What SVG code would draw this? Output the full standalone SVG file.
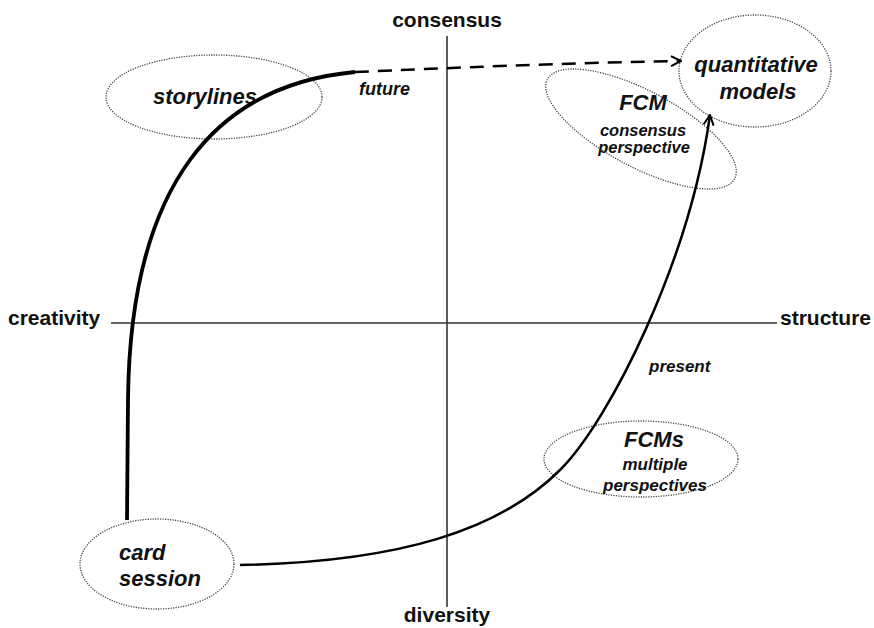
<svg xmlns="http://www.w3.org/2000/svg" width="874" height="628" viewBox="0 0 874 628">
  <style>
    .axis { stroke: #333; stroke-width: 1.6; fill: none; }
    .axlbl { font-family: "Liberation Sans", Arial, sans-serif; font-weight: bold; font-size: 21px; fill: #111; }
    .node { fill: none; stroke: #444; stroke-width: 1.3; stroke-dasharray: 1.2 1.3; }
    .big { font-family: "Liberation Sans", Arial, sans-serif; font-weight: bold; font-style: italic; font-size: 22px; fill: #111; }
    .small { font-family: "Liberation Sans", Arial, sans-serif; font-weight: bold; font-style: italic; font-size: 17px; fill: #111; }
    .tight { font-size: 16.5px; }
    .path { fill: none; stroke: #000; stroke-width: 3.8; stroke-linecap: butt; }
    .thin { fill: none; stroke: #000; stroke-width: 2.5; }
  </style>
  <defs>
    <marker id="arrow" viewBox="0 0 12 12" refX="11" refY="6" markerWidth="12" markerHeight="12" markerUnits="userSpaceOnUse" orient="auto">
      <path d="M1,1 L11,6 L1,11" fill="none" stroke="#000" stroke-width="2"/>
    </marker>
  </defs>
  <rect width="874" height="628" fill="#fff"/>

  <!-- axes -->
  <g id="axes">
    <line class="axis" x1="111" y1="323" x2="777" y2="323"/>
    <line class="axis" x1="447" y1="36" x2="447" y2="607"/>
    <text class="axlbl" x="447" y="27" text-anchor="middle">consensus</text>
    <text class="axlbl" x="447" y="622" text-anchor="middle">diversity</text>
    <text class="axlbl" x="8" y="325">creativity</text>
    <text class="axlbl" x="780" y="325">structure</text>
  </g>

  <!-- nodes -->
  <g id="storylines">
    <ellipse class="node" cx="214" cy="97" rx="108" ry="42"/>
    <text class="big" x="205" y="104" text-anchor="middle">storylines</text>
  </g>
  <g id="quantitative-models">
    <ellipse class="node" cx="755" cy="71" rx="76" ry="56"/>
    <text class="big" x="756" y="72" text-anchor="middle">quantitative</text>
    <text class="big" x="758" y="99" text-anchor="middle">models</text>
  </g>
  <g id="fcm-consensus">
    <ellipse class="node" cx="641" cy="129" rx="106" ry="38" transform="rotate(28 641 129)"/>
    <text class="big" x="643" y="110" text-anchor="middle">FCM</text>
    <text class="small tight" x="643" y="136" text-anchor="middle">consensus</text>
    <text class="small tight" x="644" y="153" text-anchor="middle">perspective</text>
  </g>
  <g id="fcms-multiple">
    <ellipse class="node" cx="641" cy="459" rx="97" ry="38"/>
    <text class="big" x="654" y="447" text-anchor="middle">FCMs</text>
    <text class="small" x="655" y="470" text-anchor="middle">multiple</text>
    <text class="small" x="655" y="491" text-anchor="middle">perspectives</text>
  </g>
  <g id="card-session">
    <ellipse class="node" cx="157" cy="564" rx="77" ry="45"/>
    <text class="big" x="119" y="560">card</text>
    <text class="big" x="119" y="586">session</text>
  </g>

  <!-- connectors -->
  <g id="connectors">
    <path class="path" d="M127,520 L128,400 C130,185 215,85 355,72"/>
    <path class="thin" d="M355,72 C450,68 560,63 681,61" stroke-dasharray="14 9" marker-end="url(#arrow)"/>
    <path class="thin" d="M240,565 C400,562 500,530 560,470 C610,420 690,260 710,115" marker-end="url(#arrow)"/>
    <text class="small" x="359" y="95" style="font-size:18px">future</text>
    <text class="small" x="649" y="372">present</text>
  </g>
</svg>
